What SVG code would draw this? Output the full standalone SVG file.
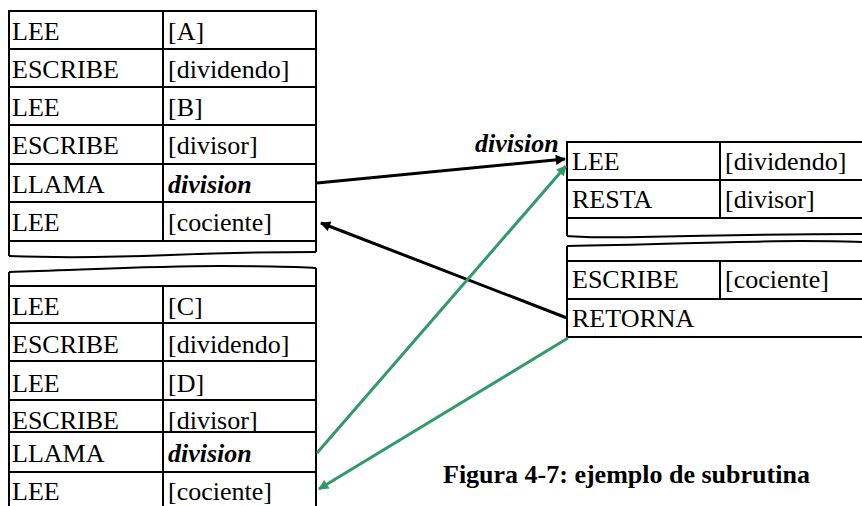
<svg xmlns="http://www.w3.org/2000/svg" width="862" height="506" viewBox="0 0 862 506">
<style>
.ln{fill:none;stroke:#000;stroke-width:2}
.t{font-family:"Liberation Serif","Times New Roman",serif;font-size:26px;fill:#000}
.bi{font-weight:bold;font-style:italic}
.cap{font-family:"Liberation Serif","Times New Roman",serif;font-size:26px;font-weight:bold;fill:#000}
.ab{stroke:#000;stroke-width:3;fill:none}
.ag{stroke:#339966;stroke-width:3;fill:none}
</style>
<defs>
<marker id="mb" viewBox="0 0 10 10" refX="9" refY="5" markerWidth="4.2" markerHeight="3.4" orient="auto" markerUnits="strokeWidth"><path d="M0,0 L10,5 L0,10 z" fill="#000"/></marker>
<marker id="mg" viewBox="0 0 10 10" refX="9" refY="5" markerWidth="4.2" markerHeight="3.4" orient="auto" markerUnits="strokeWidth"><path d="M0,0 L10,5 L0,10 z" fill="#339966"/></marker>
</defs>
<rect width="862" height="506" fill="#fff"/>

<g id="tabla-principal-1">
<path class="ln" d="M9,256 L9,11 L316,11 L316,252"/>
<path class="ln" d="M9,256 C60,258 120,257 170,255 S280,252 316,252"/>
<path class="ln" d="M9,49 H316 M9,87 H316 M9,125 H316 M9,164 H316 M9,202 H316 M9,241 H316 M163,11 V241"/>
<text class="t" x="12" y="39.5">LEE</text><text class="t" x="168" y="39.5">[A]</text>
<text class="t" x="12" y="77.5">ESCRIBE</text><text class="t" x="168" y="77.5">[dividendo]</text>
<text class="t" x="12" y="115.5">LEE</text><text class="t" x="168" y="115.5">[B]</text>
<text class="t" x="12" y="154">ESCRIBE</text><text class="t" x="168" y="154">[divisor]</text>
<text class="t" x="12" y="192.5">LLAMA</text><text class="t bi" x="168" y="192.5">division</text>
<text class="t" x="12" y="231">LEE</text><text class="t" x="168" y="231">[cociente]</text>
</g>

<g id="tabla-principal-2">
<path class="ln" d="M9,272 C80,270 150,266 220,266 S300,267 316,268"/>
<path class="ln" d="M9,272 V510 M316,268 V510"/>
<path class="ln" d="M9,286 H316 M9,323 H316 M9,361 H316 M9,400 H316 M9,432 H316 M9,472 H316 M163,286 V510"/>
<text class="t" x="12" y="315">LEE</text><text class="t" x="168" y="315">[C]</text>
<text class="t" x="12" y="353">ESCRIBE</text><text class="t" x="168" y="353">[dividendo]</text>
<text class="t" x="12" y="392">LEE</text><text class="t" x="168" y="392">[D]</text>
<text class="t" x="12" y="429">ESCRIBE</text><text class="t" x="168" y="429">[divisor]</text>
<text class="t" x="12" y="462">LLAMA</text><text class="t bi" x="168" y="462">division</text>
<text class="t" x="12" y="500">LEE</text><text class="t" x="168" y="500">[cociente]</text>
</g>

<g id="subrutina-division">
<text class="t bi" x="475" y="152">division</text>
<path class="ln" d="M567,236 V142 H870"/>
<path class="ln" d="M567,236 C585,237 600,238 640,237 S800,234 870,234"/>
<path class="ln" d="M567,180 H870 M567,218 H870 M720,142 V218"/>
<path class="ln" d="M567,246 C650,245 740,241 800,241 S850,242 870,242"/>
<path class="ln" d="M567,246 V337 H870"/>
<path class="ln" d="M567,261 H870 M567,299 H870 M720,261 V299"/>
<text class="t" x="572" y="170">LEE</text><text class="t" x="725" y="170">[dividendo]</text>
<text class="t" x="572" y="208">RESTA</text><text class="t" x="725" y="208">[divisor]</text>
<text class="t" x="572" y="288">ESCRIBE</text><text class="t" x="725" y="288">[cociente]</text>
<text class="t" x="572" y="327">RETORNA</text>
</g>

<g id="conectores">
<line class="ab" x1="317" y1="183" x2="565" y2="159" marker-end="url(#mb)"/>
<line class="ab" x1="567" y1="318" x2="321" y2="223" marker-end="url(#mb)"/>
<line class="ag" x1="317" y1="453" x2="566" y2="166" marker-end="url(#mg)"/>
<line class="ag" x1="568" y1="338" x2="319" y2="489" marker-end="url(#mg)"/>
</g>

<g id="titulo">
<text class="cap" x="443" y="483">Figura 4-7: ejemplo de subrutina</text>
</g>
</svg>
